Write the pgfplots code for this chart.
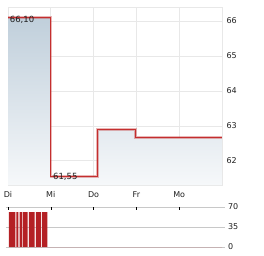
\documentclass[border=0pt]{standalone}
\usepackage{fontspec}
\setmainfont{DejaVu Sans}
\usepackage{pgfplots}
\pgfplotsset{compat=1.18}
\definecolor{gridc}{RGB}{232,232,232}
\definecolor{linec}{RGB}{196,46,46}
\definecolor{barc}{RGB}{180,32,36}
\definecolor{ftop}{RGB}{192,207,219}
\definecolor{fbot}{RGB}{246,248,250}
\definecolor{txt}{RGB}{30,30,30}
\definecolor{vgrid}{RGB}{200,200,200}
\begin{document}
\begin{tikzpicture}
\useasboundingbox (0,0) rectangle (264pt,255pt);
\begin{axis}[
 at={(8pt,70pt)}, anchor=south west, scale only axis,
 width=214pt, height=178pt,
 xmin=0, xmax=5, ymin=61.31, ymax=66.4,
 xtick={0,1,2,3,4}, xticklabels={Di,Mi,Do,Fr,Mo},
 ytick={62,63,64,65,66},
 yticklabel pos=right,
 grid=major, grid style={gridc, line width=0.8pt},
 axis line style={gridc, line width=0.8pt},
 major tick length=0pt,
 tick label style={font=\fontsize{8}{9}\selectfont, text=txt},
 /pgf/number format/assume math mode=true,
 xticklabel style={yshift=-3pt},
 yticklabel style={xshift=1pt},
]
\addplot[const plot, draw=none, top color=ftop, bottom color=fbot] coordinates {
 (0,66.1) (1,61.55) (2.09,62.89) (2.98,62.66) (5,62.66)
} \closedcycle;
\addplot[const plot, draw=linec, draw opacity=0.35, line width=2.6pt, line join=miter] coordinates {
 (0,66.1) (1,61.55) (2.09,62.89) (2.98,62.66) (5,62.66)
};
\addplot[const plot, draw=linec, line width=1.2pt, line join=miter] coordinates {
 (0,66.1) (1,61.55) (2.09,62.89) (2.98,62.66) (5,62.66)
};
\node[anchor=west, inner sep=0pt, font=\fontsize{8.5}{9}\selectfont, text=txt] at (axis cs:0.04,66.04) {66,10};
\node[anchor=west, inner sep=0pt, font=\fontsize{8.5}{9}\selectfont, text=txt] at (axis cs:1.05,61.55) {61,55};
\end{axis}
\begin{axis}[
 at={(8pt,8pt)}, anchor=south west, scale only axis,
 width=214pt, height=40pt,
 xmin=0, xmax=5, ymin=0, ymax=70,
 xtick={0,1,2,3,4}, xticklabels={},
 xtick pos=upper, xtick align=inside,
 ytick={0,35,70}, yticklabel pos=right, ytick align=outside,
 ymajorgrids, grid style={vgrid, line width=0.8pt},
 axis line style={draw=none},
 major tick length=2.5pt,
 x tick style={black, line width=0.6pt},
 y tick style={vgrid, line width=0.8pt},
 tick label style={font=\fontsize{8}{9}\selectfont, text=txt},
 /pgf/number format/assume math mode=true,
]
\addplot[const plot, draw=none, fill=barc] coordinates {
 (0.023,61) (0.16,0) (0.18,61) (0.20,0) (0.216,61) (0.24,0) (0.27,61) (0.33,0)
 (0.35,61) (0.46,0) (0.49,61) (0.62,0) (0.65,61) (0.77,0) (0.79,61) (0.92,0) (5,0)
} \closedcycle;
\end{axis}
\end{tikzpicture}
\end{document}
